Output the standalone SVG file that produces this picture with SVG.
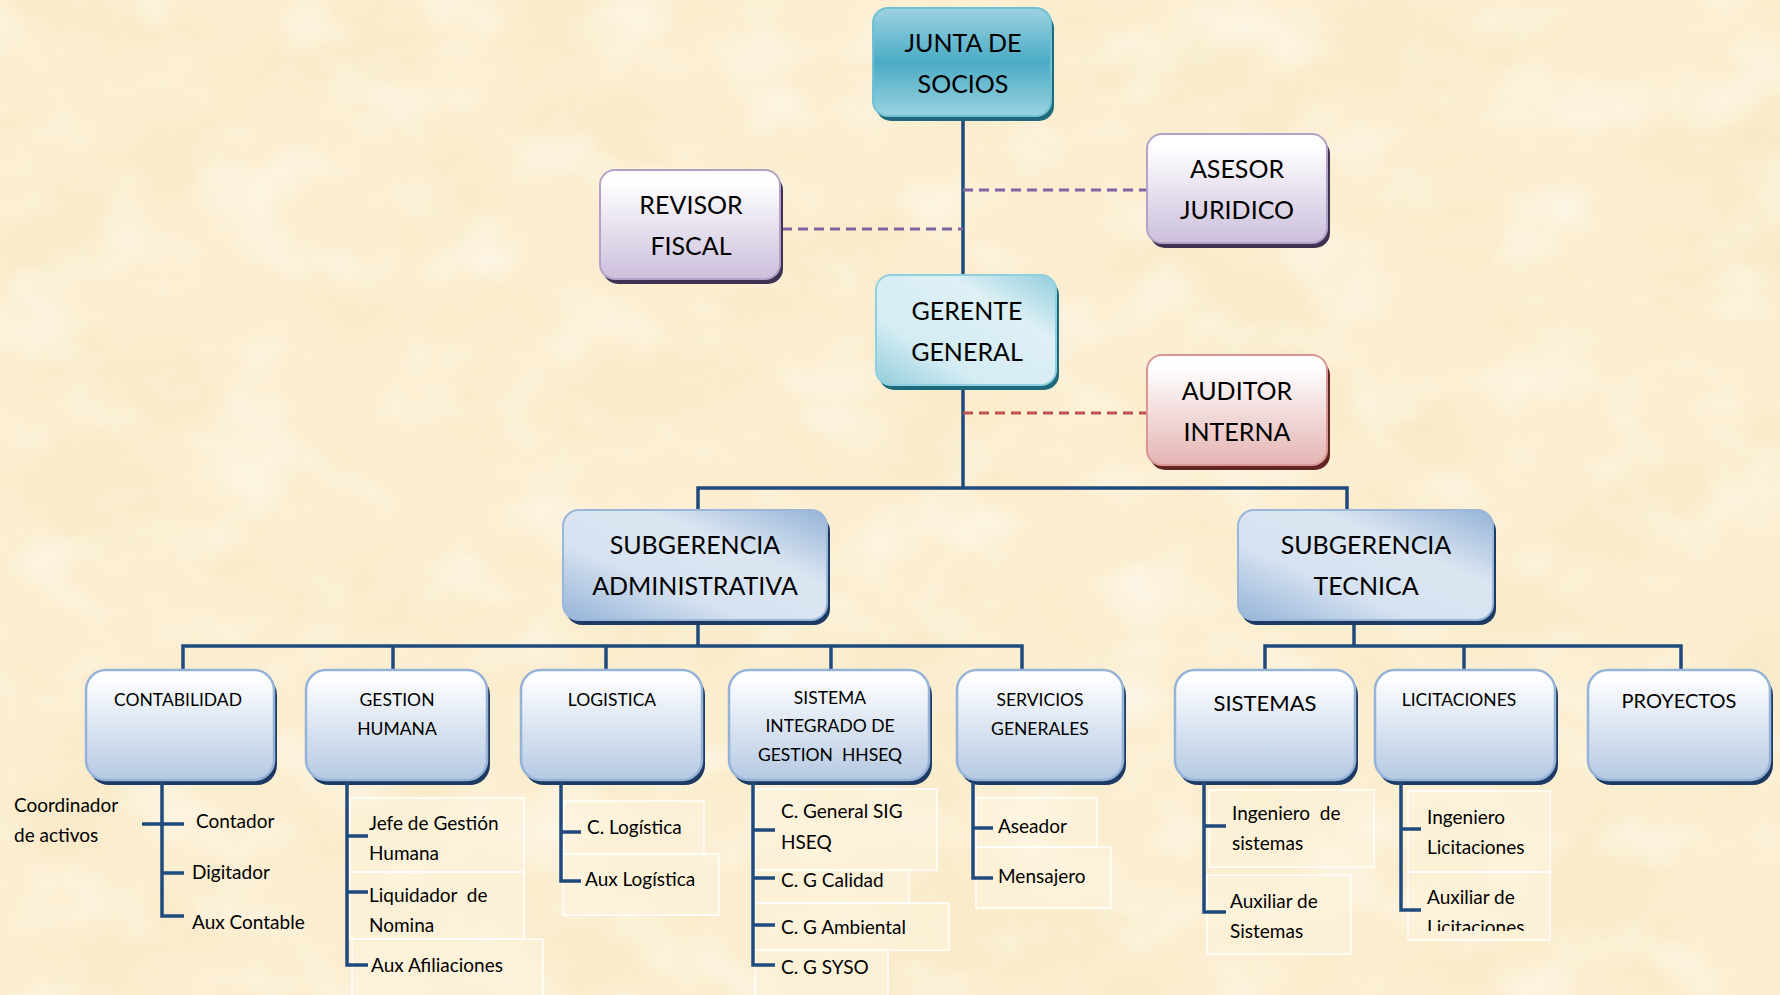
<svg xmlns="http://www.w3.org/2000/svg" width="1780" height="995" viewBox="0 0 1780 995">
<defs>
  <filter id="paperDark" x="0" y="0" width="100%" height="100%">
    <feTurbulence type="fractalNoise" baseFrequency="0.006 0.009" numOctaves="4" seed="7"/>
    <feColorMatrix values="0 0 0 0 0.92  0 0 0 0 0.80  0 0 0 0 0.52  2.2 0 0 0 -1.05"/>
  </filter>
  <filter id="paperLight" x="0" y="0" width="100%" height="100%">
    <feTurbulence type="fractalNoise" baseFrequency="0.01 0.014" numOctaves="3" seed="21"/>
    <feColorMatrix values="0 0 0 0 1  0 0 0 0 0.98  0 0 0 0 0.93  2.2 0 0 0 -1.0"/>
  </filter>
  <linearGradient id="gJunta" x1="0" y1="0" x2="0" y2="1">
    <stop offset="0" stop-color="#9dd3e1"/>
    <stop offset="0.5" stop-color="#4aabc5"/>
    <stop offset="1" stop-color="#9ad2e0"/>
  </linearGradient>
  <linearGradient id="gGerente" x1="0" y1="1" x2="1" y2="0">
    <stop offset="0" stop-color="#92cddc"/>
    <stop offset="0.3" stop-color="#d4ecf3"/>
    <stop offset="0.7" stop-color="#ddf0f5"/>
    <stop offset="1" stop-color="#92cddc"/>
  </linearGradient>
  <linearGradient id="gPurple" x1="0" y1="0" x2="0" y2="1">
    <stop offset="0.1" stop-color="#ffffff"/>
    <stop offset="1" stop-color="#ccbfdc"/>
  </linearGradient>
  <linearGradient id="gRed" x1="0" y1="0" x2="0" y2="1">
    <stop offset="0.1" stop-color="#ffffff"/>
    <stop offset="1" stop-color="#e4b4b3"/>
  </linearGradient>
  <linearGradient id="gSub" x1="0" y1="1" x2="1" y2="0">
    <stop offset="0" stop-color="#95b3d7"/>
    <stop offset="0.35" stop-color="#d6e2f1"/>
    <stop offset="0.65" stop-color="#dce6f2"/>
    <stop offset="1" stop-color="#95b3d7"/>
  </linearGradient>
  <linearGradient id="gL2" x1="0" y1="0" x2="0" y2="1">
    <stop offset="0.05" stop-color="#ffffff"/>
    <stop offset="1" stop-color="#b5c9e3"/>
  </linearGradient>
  <clipPath id="clipLic"><rect x="1400" y="870" width="160" height="61"/></clipPath>
  <style>
    .t { font-family: Lato, "Open Sans", "Liberation Sans", sans-serif; fill: #000; text-anchor: middle; dominant-baseline: central; }
    .big { font-size: 25px; }
    .mid { font-size: 17.5px; }
    .it { font-family: Lato, "Open Sans", "Liberation Sans", sans-serif; font-size: 19px; fill: #000; dominant-baseline: central; }
    .ln { stroke: #1f4a7e; stroke-width: 3.5; fill: none; stroke-linecap: butt; }
    .dp { stroke: #8064a2; stroke-width: 3; stroke-dasharray: 10 6; fill: none; }
    .dr { stroke: #c0504d; stroke-width: 3; stroke-dasharray: 10 6; fill: none; }
    .ib { fill: #fdf4de; fill-opacity: 0.55; stroke: #ffffff; stroke-width: 1.6; stroke-opacity: 0.9; }
    .sh1 { fill: #1e6a7b; }
    .shP { fill: #3f3151; }
    .shR { fill: #632523; }
    .shB { fill: #1c3a63; }
  </style>
</defs>

<rect width="1780" height="995" fill="#fbedcf"/>
<rect width="1780" height="995" filter="url(#paperDark)" opacity="0.6"/>
<rect width="1780" height="995" filter="url(#paperLight)" opacity="0.6"/>

<g id="connectors">
  <line class="ln" x1="963" y1="118" x2="963" y2="276"/>
  <line class="ln" x1="963" y1="386" x2="963" y2="488"/>
  <polyline class="ln" points="698,511 698,488 1347,488 1347,511"/>
  <line class="dp" x1="963" y1="190" x2="1147" y2="190"/>
  <line class="dp" x1="782" y1="229" x2="963" y2="229"/>
  <line class="dr" x1="963" y1="413" x2="1147" y2="413"/>
  <line class="ln" x1="698" y1="622" x2="698" y2="646"/>
  <polyline class="ln" points="183,671 183,646 1022,646 1022,671"/>
  <line class="ln" x1="393" y1="646" x2="393" y2="671"/>
  <line class="ln" x1="606" y1="646" x2="606" y2="671"/>
  <line class="ln" x1="831" y1="646" x2="831" y2="671"/>
  <line class="ln" x1="1354" y1="622" x2="1354" y2="646"/>
  <polyline class="ln" points="1265,671 1265,646 1681,646 1681,671"/>
  <line class="ln" x1="1464" y1="646" x2="1464" y2="671"/>
</g>

<g id="item-boxes">
  <rect class="ib" x="350" y="798" width="174" height="74"/>
  <rect class="ib" x="350" y="872" width="174" height="67"/>
  <rect class="ib" x="352" y="939" width="191" height="60"/>
  <rect class="ib" x="564" y="801" width="140" height="53"/>
  <rect class="ib" x="563" y="854" width="156" height="61"/>
  <rect class="ib" x="755" y="789" width="182" height="81"/>
  <rect class="ib" x="755" y="870" width="154" height="33"/>
  <rect class="ib" x="755" y="903" width="194" height="47"/>
  <rect class="ib" x="755" y="950" width="133" height="48"/>
  <rect class="ib" x="976" y="798" width="121" height="49"/>
  <rect class="ib" x="976" y="847" width="135" height="61"/>
  <rect class="ib" x="1209" y="790" width="165" height="77"/>
  <rect class="ib" x="1207" y="875" width="144" height="79"/>
  <rect class="ib" x="1408" y="791" width="142" height="81"/>
  <rect class="ib" x="1408" y="872" width="142" height="68"/>
</g>

<g id="junta">
  <rect class="sh1" x="876" y="13" width="178" height="108" rx="15"/>
  <rect x="873" y="8" width="178" height="108" rx="15" fill="url(#gJunta)" stroke="#6fc0d4" stroke-width="2"/>
  <text class="t big" x="963" y="42">JUNTA DE</text>
  <text class="t big" x="963" y="83">SOCIOS</text>
</g>
<g id="revisor">
  <rect class="shP" x="603" y="175" width="180" height="109" rx="15"/>
  <rect x="600" y="170" width="180" height="109" rx="15" fill="url(#gPurple)" stroke="#b3a2c8" stroke-width="2"/>
  <text class="t big" x="691" y="204">REVISOR</text>
  <text class="t big" x="691" y="245">FISCAL</text>
</g>
<g id="asesor">
  <rect class="shP" x="1150" y="139" width="180" height="109" rx="15"/>
  <rect x="1147" y="134" width="180" height="109" rx="15" fill="url(#gPurple)" stroke="#b3a2c8" stroke-width="2"/>
  <text class="t big" x="1237" y="168">ASESOR</text>
  <text class="t big" x="1237" y="209">JURIDICO</text>
</g>
<g id="gerente">
  <rect class="sh1" x="879" y="280" width="180" height="110" rx="15"/>
  <rect x="876" y="275" width="180" height="110" rx="15" fill="url(#gGerente)" stroke="#8fcfdf" stroke-width="2"/>
  <text class="t big" x="967" y="310">GERENTE</text>
  <text class="t big" x="967" y="351">GENERAL</text>
</g>
<g id="auditor">
  <rect class="shR" x="1150" y="360" width="180" height="110" rx="15"/>
  <rect x="1147" y="355" width="180" height="110" rx="15" fill="url(#gRed)" stroke="#d99694" stroke-width="2"/>
  <text class="t big" x="1237" y="390">AUDITOR</text>
  <text class="t big" x="1237" y="431">INTERNA</text>
</g>
<g id="sub-admin">
  <rect class="shB" x="566" y="515" width="264" height="110" rx="16"/>
  <rect x="563" y="510" width="264" height="110" rx="16" fill="url(#gSub)" stroke="#9ab7da" stroke-width="2"/>
  <text class="t big" x="695" y="544">SUBGERENCIA</text>
  <text class="t big" x="695" y="585">ADMINISTRATIVA</text>
</g>
<g id="sub-tecnica">
  <rect class="shB" x="1241" y="515" width="255" height="110" rx="16"/>
  <rect x="1238" y="510" width="255" height="110" rx="16" fill="url(#gSub)" stroke="#9ab7da" stroke-width="2"/>
  <text class="t big" x="1366" y="544">SUBGERENCIA</text>
  <text class="t big" x="1366" y="585">TECNICA</text>
</g>

<g id="contabilidad">
  <rect class="shB" x="89" y="675" width="188" height="110" rx="20"/>
  <rect x="86" y="670" width="188" height="110" rx="20" fill="url(#gL2)" stroke="#95b3d7" stroke-width="2.5"/>
  <text class="t mid" x="178" y="699">CONTABILIDAD</text>
  <path class="ln" d="M162,782 V916 H184 M142,824 H184 M162,873 H184"/>
  <text class="it" x="14" y="804">Coordinador</text>
  <text class="it" x="14" y="834">de activos</text>
  <text class="it" x="196" y="820">Contador</text>
  <text class="it" x="192" y="871">Digitador</text>
  <text class="it" x="192" y="921">Aux Contable</text>
</g>
<g id="gestion-humana">
  <rect class="shB" x="309" y="675" width="181" height="110" rx="20"/>
  <rect x="306" y="670" width="181" height="110" rx="20" fill="url(#gL2)" stroke="#95b3d7" stroke-width="2.5"/>
  <text class="t mid" x="397" y="699">GESTION</text>
  <text class="t mid" x="397" y="728">HUMANA</text>
  <path class="ln" d="M347,782 V965 H368 M347,836 H368 M347,892 H368"/>
  <text class="it" x="369" y="822">Jefe de Gestión</text>
  <text class="it" x="369" y="852">Humana</text>
  <text class="it" x="369" y="894" xml:space="preserve">Liquidador  de</text>
  <text class="it" x="369" y="924">Nomina</text>
  <text class="it" x="371" y="964">Aux Afiliaciones</text>
</g>
<g id="logistica">
  <rect class="shB" x="524" y="675" width="181" height="110" rx="20"/>
  <rect x="521" y="670" width="181" height="110" rx="20" fill="url(#gL2)" stroke="#95b3d7" stroke-width="2.5"/>
  <text class="t mid" x="612" y="699">LOGISTICA</text>
  <path class="ln" d="M561,782 V881 H581 M561,832 H581"/>
  <text class="it" x="587" y="826">C. Logística</text>
  <text class="it" x="585" y="878">Aux Logística</text>
</g>
<g id="sistema-integrado">
  <rect class="shB" x="732" y="675" width="200" height="110" rx="20"/>
  <rect x="729" y="670" width="200" height="110" rx="20" fill="url(#gL2)" stroke="#95b3d7" stroke-width="2.5"/>
  <text class="t mid" x="830" y="697">SISTEMA</text>
  <text class="t mid" x="830" y="725">INTEGRADO DE</text>
  <text class="t mid" x="830" y="754" xml:space="preserve">GESTION  HHSEQ</text>
  <path class="ln" d="M753,782 V965 H775 M753,830 H775 M753,878 H775 M753,925 H775"/>
  <text class="it" x="781" y="810">C. General SIG</text>
  <text class="it" x="781" y="841">HSEQ</text>
  <text class="it" x="781" y="879">C. G Calidad</text>
  <text class="it" x="781" y="926">C. G Ambiental</text>
  <text class="it" x="781" y="966">C. G SYSO</text>
</g>
<g id="servicios-generales">
  <rect class="shB" x="960" y="675" width="166" height="110" rx="20"/>
  <rect x="957" y="670" width="166" height="110" rx="20" fill="url(#gL2)" stroke="#95b3d7" stroke-width="2.5"/>
  <text class="t mid" x="1040" y="699">SERVICIOS</text>
  <text class="t mid" x="1040" y="728">GENERALES</text>
  <path class="ln" d="M973,782 V878 H993 M973,828 H993"/>
  <text class="it" x="998" y="825">Aseador</text>
  <text class="it" x="998" y="875">Mensajero</text>
</g>
<g id="sistemas">
  <rect class="shB" x="1178" y="675" width="180" height="110" rx="20"/>
  <rect x="1175" y="670" width="180" height="110" rx="20" fill="url(#gL2)" stroke="#95b3d7" stroke-width="2.5"/>
  <text class="t" x="1265" y="702" style="font-size:22px">SISTEMAS</text>
  <path class="ln" d="M1204,782 V912 H1226 M1204,826 H1226"/>
  <text class="it" x="1232" y="812" xml:space="preserve">Ingeniero  de</text>
  <text class="it" x="1232" y="842">sistemas</text>
  <text class="it" x="1230" y="900">Auxiliar de</text>
  <text class="it" x="1230" y="930">Sistemas</text>
</g>
<g id="licitaciones">
  <rect class="shB" x="1378" y="675" width="180" height="110" rx="20"/>
  <rect x="1375" y="670" width="180" height="110" rx="20" fill="url(#gL2)" stroke="#95b3d7" stroke-width="2.5"/>
  <text class="t mid" x="1459" y="699">LICITACIONES</text>
  <path class="ln" d="M1401,782 V910 H1421 M1401,829 H1421"/>
  <text class="it" x="1427" y="816">Ingeniero</text>
  <text class="it" x="1427" y="846">Licitaciones</text>
  <text class="it" x="1427" y="896">Auxiliar de</text>
  <text class="it" x="1427" y="926" clip-path="url(#clipLic)">Licitaciones</text>
</g>
<g id="proyectos">
  <rect class="shB" x="1591" y="675" width="182" height="110" rx="20"/>
  <rect x="1588" y="670" width="182" height="110" rx="20" fill="url(#gL2)" stroke="#95b3d7" stroke-width="2.5"/>
  <text class="t" x="1679" y="700" style="font-size:20px">PROYECTOS</text>
</g>
</svg>
